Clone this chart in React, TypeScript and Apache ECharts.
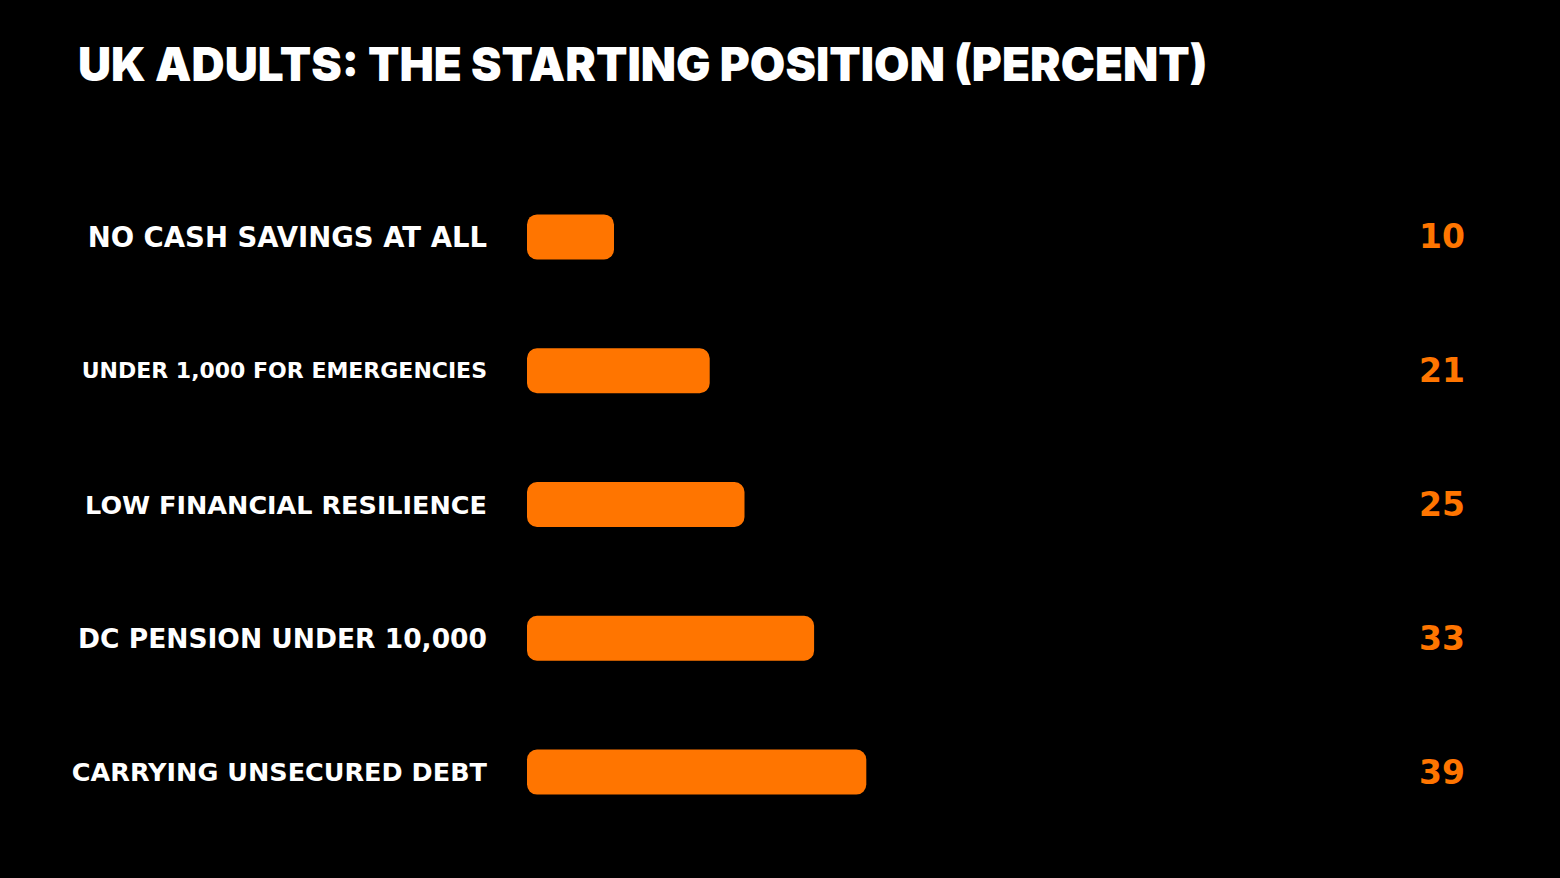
import React, { useEffect, useRef } from "react";
import * as echarts from "echarts";

const TITLE = "UK ADULTS: THE STARTING POSITION (PERCENT)";
const categories = [
  "NO CASH SAVINGS AT ALL",
  "UNDER 1,000 FOR EMERGENCIES",
  "LOW FINANCIAL RESILIENCE",
  "DC PENSION UNDER 10,000",
  "CARRYING UNSECURED DEBT",
];
const values = [10, 21, 25, 33, 39];
const labelSizes = [27.5, 22, 25.5, 26.5, 25.5];

const ORANGE = "#FF7500";
const TITLE_FONT = "Inter";
const FONT = "DejaVu Sans";

export default function App() {
  const ref = useRef<HTMLDivElement>(null);
  useEffect(() => {
    if (!ref.current) return;
    const chart = echarts.init(ref.current, null, { renderer: "svg" });
    chart.setOption({
      animation: false,
      backgroundColor: "#000000",
      graphic: [
        {
          type: "text",
          x: 78,
          y: 40,
          scaleX: 0.976,
          style: {
            text: TITLE,
            fill: "#ffffff",
            font: `900 47px ${TITLE_FONT}`,
          },
        },
      ],
      grid: { left: 527, right: 163, top: 170, bottom: 39, containLabel: false },
      xAxis: {
        type: "value",
        min: 0,
        max: 100,
        show: false,
      },
      yAxis: [
        {
          type: "category",
          inverse: true,
          data: categories.map((c, i) => ({
            value: c,
            textStyle: { fontSize: labelSizes[i] },
          })),
          axisLine: { show: false },
          axisTick: { show: false },
          splitLine: { show: false },
          axisLabel: {
            color: "#ffffff",
            fontFamily: FONT,
            fontWeight: "bold",
            margin: 40,
          },
        },
        {
          type: "category",
          inverse: true,
          position: "right",
          data: values.map((v) => String(v)),
          axisLine: { show: false },
          axisTick: { show: false },
          splitLine: { show: false },
          axisLabel: {
            color: ORANGE,
            fontFamily: FONT,
            fontWeight: "bold",
            fontSize: 33,
            margin: 22,
            align: "left",
          },
        },
      ],
      series: [
        {
          type: "bar",
          data: values,
          yAxisIndex: 0,
          barWidth: 45,
          itemStyle: { color: ORANGE, borderRadius: 10 },
        },
      ],
    });
    return () => chart.dispose();
  }, []);
  return (
    <div
      ref={ref}
      style={{ position: "fixed", left: 0, top: 0, width: 1560, height: 878, background: "#000" }}
    />
  );
}
